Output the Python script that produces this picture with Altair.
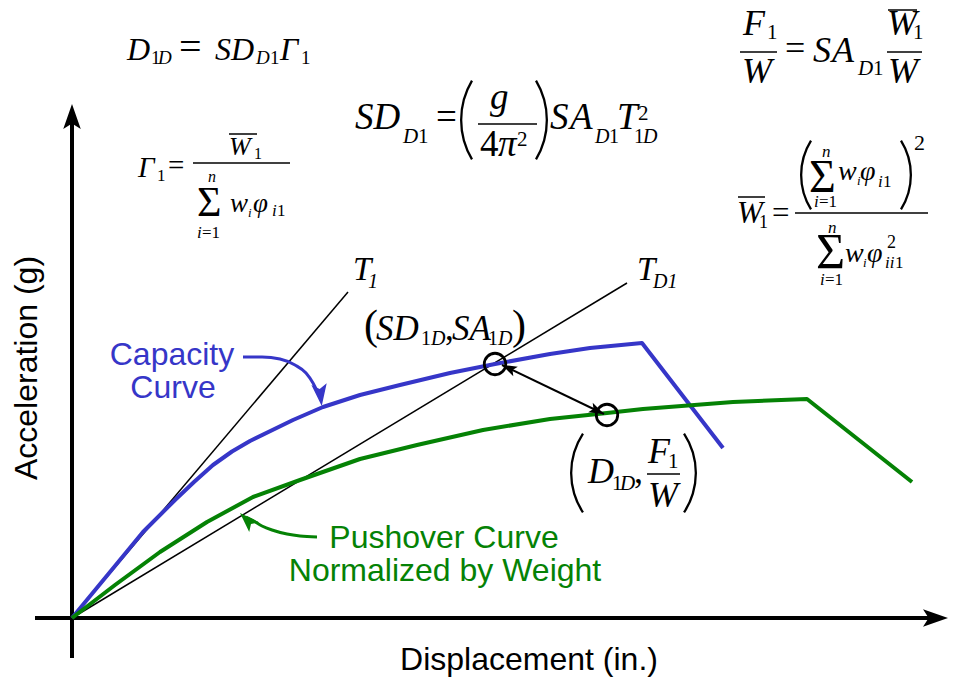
import math
import altair as alt
import pandas as pd

# ---------------- chart data (displacement in., acceleration g) ----------------
cap_disp = [0, 0.38, 0.71, 1.03, 1.22, 1.41, 1.60, 1.78, 2.21, 2.51, 2.88, 3.28, 3.78, 4.23, 4.78, 5.18, 5.70, 6.51]
cap_acc = [0, 0.092, 0.172, 0.236, 0.272, 0.306, 0.333, 0.354, 0.396, 0.422, 0.446, 0.466, 0.49, 0.508, 0.528, 0.54, 0.55, 0.34]
push_disp = [0, 0.43, 0.88, 1.35, 1.81, 2.28, 2.88, 3.45, 4.11, 4.78, 5.35, 5.71, 6.61, 7.35, 8.40]
push_acc = [0, 0.066, 0.132, 0.192, 0.242, 0.276, 0.318, 0.346, 0.376, 0.398, 0.41, 0.418, 0.432, 0.438, 0.272]
t1_disp = [0, 2.76]
t1_acc = [0, 0.652]
td1_disp = [0, 5.55]
td1_acc = [0, 0.67]
pt_disp = [4.23, 5.35]          # (SD1D, SA1D) and (D1D, F1/W)
pt_acc = [0.508, 0.406]

BLUE = "#3636c8"
GREEN = "#058205"
W, H = 945, 671
X_DOM = [-0.64, 8.81]
Y_DOM = [-0.122, 1.22]

# ---------------- layout helpers ----------------
def at(px, py):
    """picture position -> data units"""
    return (px - 72) / 100.0, (618 - py) / 500.0

xs = alt.Scale(domain=X_DOM, nice=False, zero=False)
ys = alt.Scale(domain=Y_DOM, nice=False, zero=False)

def X(f="x"):
    return alt.X(f"{f}:Q", scale=xs, axis=None)

def Y(f="y"):
    return alt.Y(f"{f}:Q", scale=ys, axis=None)

ARROW = "M0,-1L0.7,1L0,0.55L-0.7,1Z"

layers = []

# axes
ax = pd.DataFrame([
    {"x": 0, "y": -0.08, "x2": 0, "y2": 0.996},
    {"x": -0.37, "y": 0, "x2": 8.68, "y2": 0},
])
layers.append(alt.Chart(ax).mark_rule(color="black", strokeWidth=4).encode(
    x=X(), y=Y(), x2="x2:Q", y2="y2:Q"))

def heads(rows, color="black"):
    df = pd.DataFrame([{"x": x, "y": y, "a": a, "s": s} for x, y, a, s in rows])
    return alt.Chart(df).mark_point(shape=ARROW, filled=True, color=color, opacity=1,
                                    strokeWidth=0).encode(
        x=X(), y=Y(), angle=alt.Angle("a:Q", scale=None), size=alt.Size("s:Q", scale=None))

layers.append(heads([(0, 1.003, 0, 625), (8.635, 0, 90, 625)]))

# period lines
tl = pd.DataFrame({"x": t1_disp + td1_disp, "y": t1_acc + td1_acc,
                   "k": ["T1"] * 2 + ["TD1"] * 2})
layers.append(alt.Chart(tl).mark_line(color="black", strokeWidth=1.5).encode(
    x=X(), y=Y(), detail="k:N"))

# curves
layers.append(alt.Chart(pd.DataFrame({"x": cap_disp, "y": cap_acc})).mark_line(
    color=BLUE, strokeWidth=4, strokeJoin="round").encode(x=X(), y=Y()))
layers.append(alt.Chart(pd.DataFrame({"x": push_disp, "y": push_acc})).mark_line(
    color=GREEN, strokeWidth=4, strokeJoin="round").encode(x=X(), y=Y()))

# performance points
layers.append(alt.Chart(pd.DataFrame({"x": pt_disp, "y": pt_acc})).mark_point(
    shape="circle", filled=False, size=460, strokeWidth=2.8, color="black", opacity=1).encode(
    x=X(), y=Y()))

# double arrow between points
p1, p2 = at(502, 365), at(604, 414)
layers.append(alt.Chart(pd.DataFrame({"x": [p1[0]], "y": [p1[1]], "x2": [p2[0]], "y2": [p2[1]]}))
              .mark_rule(color="black", strokeWidth=2).encode(x=X(), y=Y(), x2="x2:Q", y2="y2:Q"))
h1, h2 = at(508.8, 368.2), at(597.2, 410.8)
layers.append(heads([(h1[0], h1[1], 295.7, 225), (h2[0], h2[1], 115.7, 225)]))

# callout arrows
blue_call = [at(243, 357), at(262, 357), at(280, 359), at(295, 365), at(306, 373), at(313, 383), at(318, 393)]
green_call = [at(317, 537), at(300, 536), at(287, 534), at(272, 530), at(262, 526), at(252, 520), at(246, 517)]
layers.append(alt.Chart(pd.DataFrame(blue_call, columns=["x", "y"])).mark_line(
    color=BLUE, strokeWidth=3, interpolate="monotone").encode(x=X(), y=Y()))
layers.append(alt.Chart(pd.DataFrame(green_call, columns=["x", "y"])).mark_line(
    color=GREEN, strokeWidth=3, interpolate="monotone").encode(x=X(), y=Y()))
bh, gh = at(320.4, 395.1), at(247.1, 520.1)
layers.append(heads([(bh[0], bh[1], 173, 484)], BLUE))
layers.append(heads([(gh[0], gh[1], 315, 400)], GREEN))

# fraction bars / overbars
bars = [(478, 537, 124), (740, 777, 52), (887, 922, 52), (888, 917, 10),
        (193, 290, 163), (229, 257, 134), (738, 765, 197), (795, 928, 213), (647, 680, 474)]
bdf = pd.DataFrame([{"x": at(a, y)[0], "x2": at(b, y)[0], "y": at(a, y)[1]} for a, b, y in bars])
layers.append(alt.Chart(bdf).mark_rule(color="black", strokeWidth=1.5).encode(
    x=X(), x2="x2:Q", y=Y()))

# big parentheses as arcs: (ink x, center y, radius, half-angle, side)
parens = [(460, 120, 78, 30.8, "L"), (548, 120, 78, 30.8, "R"),
          (800, 175, 66, 32, "L"), (912, 175, 66, 32, "R"),
          (570, 473, 72.7, 33.4, "L"), (697, 473, 72.7, 33.4, "R")]
prow = []
for ex, cy, r, half, side in parens:
    cx = ex + r if side == "L" else ex - r
    mid = 270 if side == "L" else 90
    px_, py_ = at(cx, cy)
    prow.append({"x": px_, "y": py_, "t1": math.radians(mid - half), "t2": math.radians(mid + half),
                 "r": r, "r2": r - 2.3})
layers.append(alt.Chart(pd.DataFrame(prow)).mark_arc(color="black").encode(
    x=X(), y=Y(),
    theta=alt.Theta("t1:Q", scale=None, stack=None), theta2="t2:Q",
    radius=alt.Radius("r:Q", scale=None), radius2="r2:Q"))

# ---------------- text ----------------
def text_layer(rows, font, style="normal", color="black", align="left", angle=0):
    df = pd.DataFrame([{"t": t, "x": at(px, py)[0], "y": at(px, py)[1], "s": s}
                       for t, px, py, s in rows])
    return alt.Chart(df).mark_text(font=font, fontStyle=style, color=color, align=align,
                                   baseline="alphabetic", angle=angle).encode(
        x=X(), y=Y(), text="t:N", size=alt.Size("s:Q", scale=None))

SERIF = "Liberation Serif"
SANS = "Liberation Sans"

serif_italic = [
    # D1D = SD_D1 Gamma_1
    ("D", 127, 60, 32), ("D", 158, 64, 19), ("SD", 215, 60, 32), ("D", 256, 64, 19), ("Γ", 280, 60, 32),
    # SD_D1 = (g / 4pi^2) SA_D1 T^2_1D
    ("SD", 355, 129, 37), ("D", 403, 143, 21), ("g", 490, 109, 37), ("π", 498, 156, 37),
    ("S", 550, 129, 37), ("A", 570, 129, 37), ("D", 595, 143, 20), ("T", 617, 129, 37), ("D", 643, 143, 20),
    # F1/W = SA_D1 W1/W
    ("F", 743, 35, 36), ("W", 742, 83, 36), ("S", 813, 62, 36), ("A", 832, 62, 36), ("D", 858, 75, 21),
    ("W", 887, 35, 36), ("W", 888, 83, 36),
    # Gamma_1
    ("Γ", 138, 177, 29), ("W", 229, 155, 26), ("n", 208, 182, 16), ("i", 197, 238, 17),
    ("w", 230, 212, 27), ("i", 248, 217, 13), ("φ", 253, 212, 27), ("i", 272, 216, 17),
    # W1 bar
    ("W", 737, 223, 31), ("n", 822, 157, 17), ("i", 814, 207, 17), ("w", 838, 180, 28),
    ("i", 857, 185, 13), ("φ", 860, 180, 28), ("i", 878, 187, 17), ("n", 828, 233, 17),
    ("i", 820, 285, 17), ("w", 845, 262, 28), ("i", 863, 267, 13), ("φ", 867, 262, 28),
    ("ii", 885, 268, 17),
    # (SD_1D, SA_1D)
    ("SD", 376, 340, 35), ("D", 431, 345, 20), ("SA", 452, 340, 35), ("D", 498, 345, 20),
    # (D_1D, F1/W)
    ("D", 588, 483, 36), ("D", 620, 490, 21), ("F", 648, 463, 36), ("W", 648, 507, 36),
    # period labels
    ("T", 353, 280, 33), ("1", 368, 288, 20), ("T", 637, 280, 33), ("D1", 653, 288, 20),
]
serif_roman = [
    ("1", 151, 64, 19), ("=", 179, 60, 40), ("1", 270, 64, 19), ("1", 301, 64, 19),
    ("1", 418, 143, 21), ("=", 436, 129, 37), ("4", 480, 156, 37), ("2", 517, 146, 21),
    ("1", 609, 143, 20), ("2", 638, 120, 21), ("1", 634, 143, 20),
    ("1", 767, 39, 21), ("=", 785, 60, 36), ("1", 873, 75, 21), ("1", 913, 39, 21),
    ("1", 157, 181, 17), ("=", 168, 175, 29), ("1", 254, 159, 16), ("Σ", 197, 216, 42),
    ("=1", 202, 238, 17), ("1", 277, 216, 17),
    ("1", 759, 228, 18), ("=", 772, 223, 31), ("Σ", 809, 192, 46), ("=1", 819, 207, 17),
    ("1", 883, 187, 17), ("2", 914, 150, 22), ("Σ", 816, 268, 50), ("=1", 825, 285, 17),
    ("2", 887, 248, 18), ("1", 895, 268, 17),
    ("(", 364, 339, 42), ("1", 421, 345, 20), (",", 445, 340, 35), ("1", 488, 345, 20), (")", 512, 339, 42),
    ("1", 612, 490, 21), (",", 634, 483, 36), ("1", 668, 468, 21),
]
layers.append(text_layer(serif_italic, SERIF, style="italic"))
layers.append(text_layer(serif_roman, SERIF))
layers.append(text_layer([("Capacity", 172, 365, 32), ("Curve", 173, 398, 32)], SANS,
                         color=BLUE, align="center"))
layers.append(text_layer([("Pushover Curve", 444, 548, 32), ("Normalized by Weight", 445, 581, 32)],
                         SANS, color=GREEN, align="center"))
layers.append(text_layer([("Displacement (in.)", 529, 670, 32)], SANS, align="center"))
layers.append(text_layer([("Acceleration (g)", 37, 368, 32)], SANS, align="center", angle=270))

chart = alt.layer(*layers).properties(
    width=W, height=H, padding=0, autosize=alt.AutoSizeParams(type="none"),
    background="white",
).configure_view(stroke=None)

chart.save("out.html", embed_options={"renderer": "svg", "actions": False})
